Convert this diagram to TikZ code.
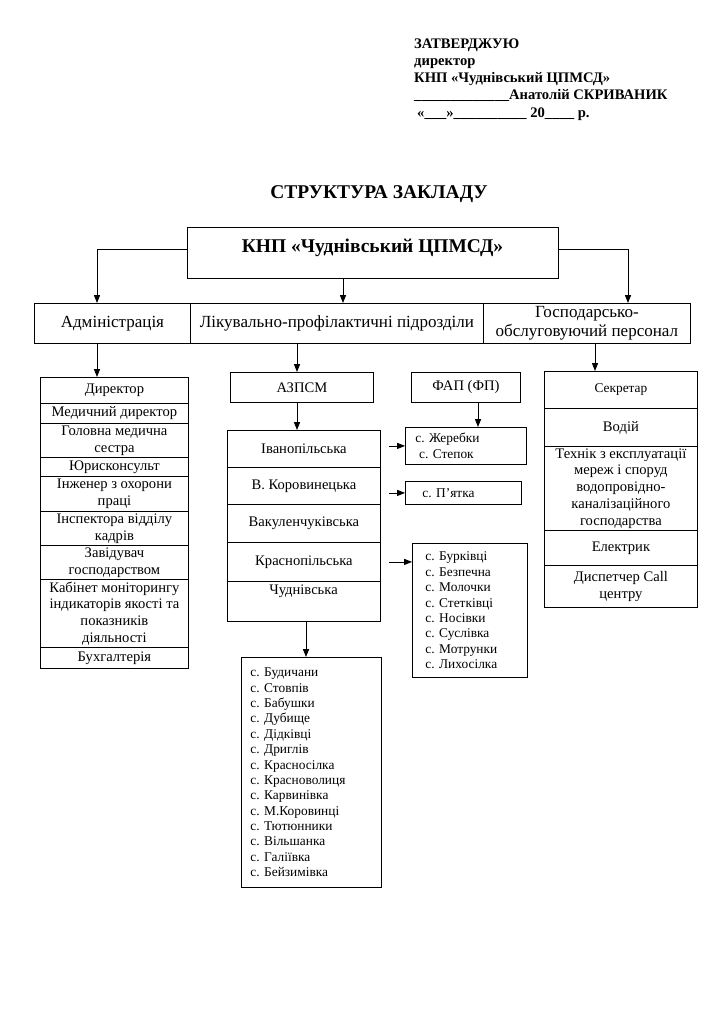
\documentclass[tikz,border=0pt]{standalone}
\usepackage{fontspec}
\setmainfont{Liberation Serif}
\usetikzlibrary{arrows.meta,calc}
\def\px{0.822pt}
\frenchspacing
\begin{document}
\frenchspacing
\begin{tikzpicture}[x=0.822pt,y=-0.822pt,
  cell/.style={draw,line width=0.7pt,anchor=north west,inner sep=1pt,align=center},
  arr/.style={line width=0.7pt,-{Triangle[length=6.5pt,width=5pt]}},
  hdr/.style={anchor=base west,inner sep=0pt,font=\fontsize{12pt}{14pt}\selectfont\bfseries},
  big/.style={inner sep=0pt,font=\fontsize{16pt}{18pt}\selectfont\bfseries},
  t14/.style={font=\fontsize{14pt}{16pt}\selectfont},
  t12/.style={font=\fontsize{12pt}{13.8pt}\selectfont},
  t11/.style={font=\fontsize{11pt}{12.65pt}\selectfont},
  lst/.style={draw,line width=0.7pt,anchor=north west,align=left,inner ysep=1pt,font=\fontsize{11pt}{12.65pt}\selectfont\frenchspacing},
]
\useasboundingbox (0,0) rectangle (724,1024);
\fill[white] (0,0) rectangle (724,1024);

% header
\node[hdr] (h1) at (414,48) {ЗАТВЕРДЖУЮ};
\node[hdr] (h2) at (414,65.25) {директор};
\node[hdr] (h3) at (414,82.5) {КНП «Чуднівський ЦПМСД»};
\node[hdr] (h4) at (414,99.75) {\_\_\_\_\_\_\_\_\_\_\_\_\_Анатолій СКРИВАНИК};
\node[hdr] (h5) at (417,117) {«\_\_\_»\_\_\_\_\_\_\_\_\_\_ 20\_\_\_\_ р.};

% title
\node[big,anchor=base] (title) at (379,198) {СТРУКТУРА ЗАКЛАДУ};

% main box
\node[draw,line width=0.7pt,anchor=north west,inner sep=0pt,minimum width=371*\px,minimum height=51*\px] (main) at (187,227) {};
\node[big,anchor=base] (maintext) at (372.5,252) {КНП «Чуднівський ЦПМСД»};

% second row
\node[cell,t14,minimum width=156*\px,minimum height=40*\px] (adm) at (34,303) {Адміністрація};
\node[cell,t14,minimum width=293*\px,minimum height=40*\px] (lik) at (190,303) {Лікувально-профілактичні підрозділи};
\node[cell,t14,minimum width=207*\px,minimum height=40*\px] (gosp) at (483,303) {Господарсько-\\обслуговуючий персонал};

\coordinate (cA) at (97,303);
\coordinate (cL) at (343,303);
\coordinate (cG) at (628,303);
\draw[arr] ([yshift=2.9pt]main.west) -| (cA);
\draw[arr] (main.south -| cL) -- (cL);
\draw[arr] ([yshift=2.9pt]main.east) -| (cG);

% administration stack
\node[cell,t12,minimum width=148*\px,minimum height=26*\px] (d1) at (40,377) {Директор};
\node[cell,t12,minimum width=148*\px,minimum height=20*\px] (d2) at (40,403) {Медичний директор};
\node[cell,t12,minimum width=148*\px,minimum height=34*\px] (d3) at (40,423) {Головна медична\\сестра};
\node[cell,t12,minimum width=148*\px,minimum height=19*\px] (d4) at (40,457) {Юрисконсульт};
\node[cell,t12,minimum width=148*\px,minimum height=35*\px] (d5) at (40,476) {Інженер з охорони\\праці};
\node[cell,t12,minimum width=148*\px,minimum height=34*\px] (d6) at (40,511) {Інспектора відділу\\кадрів};
\node[cell,t12,minimum width=148*\px,minimum height=34*\px] (d7) at (40,545) {Завідувач\\господарством};
\node[cell,t12,minimum width=148*\px,minimum height=68*\px] (d8) at (40,579) {Кабінет моніторингу\\індикаторів якості та\\показників\\діяльності};
\node[cell,t12,minimum width=148*\px,minimum height=21*\px] (d9) at (40,647) {Бухгалтерія};

% right stack
\node[cell,t11,minimum width=153*\px,minimum height=37*\px] (s1) at (544,371) {Секретар};
\node[cell,t12,minimum width=153*\px,minimum height=38*\px] (s2) at (544,408) {Водій};
\node[cell,t12,minimum width=153*\px,minimum height=84*\px] (s3) at (544,446) {Технік з експлуатації\\мереж і споруд\\водопровідно-\\каналізаційного\\господарства};
\node[cell,t12,minimum width=153*\px,minimum height=35*\px] (s4) at (544,530) {Електрик};
\node[cell,t12,minimum width=153*\px,minimum height=42*\px] (s5) at (544,565) {Диспетчер Call\\центру};

% middle
\node[cell,t12,minimum width=143*\px,minimum height=30*\px] (azpsm) at (230,372) {АЗПСМ};
\node[cell,t12,minimum width=109*\px,minimum height=30*\px] (fap) at (411,372) {ФАП (ФП)};

\node[cell,t12,minimum width=153*\px,minimum height=37*\px] (m1) at (227,430) {Іванопільська};
\node[cell,t12,minimum width=153*\px,minimum height=37*\px] (m2) at (227,467) {В. Коровинецька};
\node[cell,t12,minimum width=153*\px,minimum height=38*\px] (m3) at (227,504) {Вакуленчуківська};
\node[cell,t12,minimum width=153*\px,minimum height=39*\px] (m4) at (227,542) {Краснопільська};
\node[cell,minimum width=153*\px,minimum height=40*\px] (m5) at (227,581) {};
\node[t12,inner sep=0pt] (m5t) at (303.5,591) {Чуднівська};

% village lists
\node[lst,text width=101*\px,inner xsep=10*\px,minimum height=37*\px] (zh) at (405,427) {с. Жеребки\\\hspace*{3pt}с. Степок};
\node[lst,text width=82*\px,inner xsep=17*\px,minimum height=23*\px] (pya) at (405,481) {с. П’ятка};
\node[lst,text width=89*\px,inner xsep=13*\px,minimum height=134*\px] (bur) at (412,543) {с. Бурківці\\с. Безпечна\\с. Молочки\\с. Стетківці\\с. Носівки\\с. Суслівка\\с. Мотрунки\\с. Лихосілка};
\node[lst,text width=122*\px,inner xsep=9*\px,minimum height=230*\px] (bud) at (241,657) {с. Будичани\\с. Стовпів\\с. Бабушки\\с. Дубище\\с. Дідківці\\с. Дриглів\\с. Красносілка\\с. Красноволиця\\с. Карвинівка\\с. М.Коровинці\\с. Тютюнники\\с. Вільшанка\\с. Галіївка\\с. Бейзимівка};

% connectors from second row
\coordinate (aA) at (97,0);
\coordinate (aL) at (297,0);
\coordinate (aG) at (595,0);
\draw[arr] (adm.south -| aA) -- (d1.north -| aA);
\draw[arr] (lik.south -| aL) -- (azpsm.north -| aL);
\draw[arr] (gosp.south -| aG) -- (s1.north -| aG);

% middle connectors
\coordinate (xA) at (297,0);
\coordinate (xF) at (478,0);
\coordinate (xB) at (306,0);
\coordinate (xs) at (389,0);
\draw[arr] (azpsm.south -| xA) -- (m1.north -| xA);
\draw[arr] (fap.south -| xF) -- (zh.north -| xF);
\draw[arr] (m5.south -| xB) -- (bud.north -| xB);
\draw[arr] (zh.west -| xs) -- (zh.west);
\draw[arr] (pya.west -| xs) -- (pya.west);
\draw[arr] (m4.east -| xs) -- (m4.east -| bur.west);
\end{tikzpicture}
\end{document}
